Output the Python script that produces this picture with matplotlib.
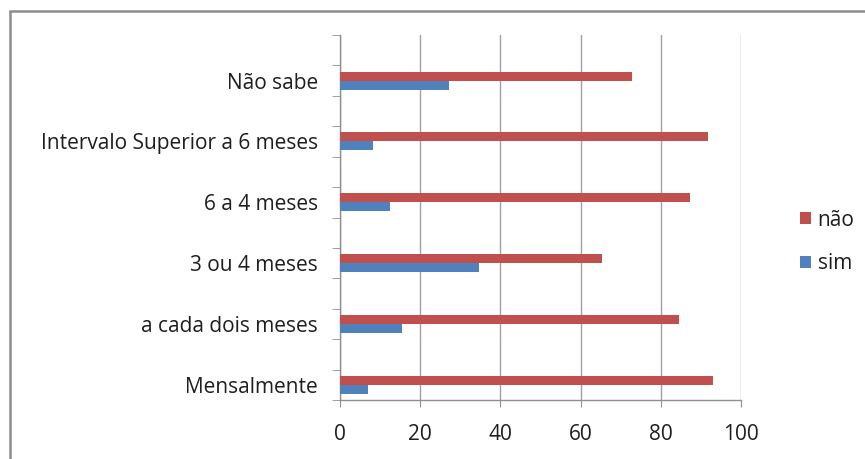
import matplotlib
matplotlib.use("Agg")
import matplotlib.pyplot as plt
import numpy as np
from matplotlib.patches import Rectangle
from matplotlib.ticker import FixedLocator

categories = ["Mensalmente", "a cada dois meses", "3 ou 4 meses", "6 a 4 meses",
              "Intervalo Superior a 6 meses", "Não sabe"]
nao = [93.1, 84.5, 65.4, 87.3, 91.7, 72.7]
sim = [6.9, 15.5, 34.6, 12.5, 8.3, 27.3]
xticks = [0, 20, 40, 60, 80, 100]

W, H = 865, 459
fig = plt.figure(figsize=(W / 100, H / 100), dpi=100)
plt.rcParams['font.family'] = ['Open Sans', 'DejaVu Sans']
txtc = '#1e1e1e'
fs = 15

ax = fig.add_axes([340 / W, 1 - 400 / H, (741 - 340) / W, (400 - 35) / H])
y = np.arange(len(categories))
h = 0.148
ax.barh(y + h / 2, nao, height=h, color='#C0504D', label='não', zorder=3)
ax.barh(y - h / 2, sim, height=h, color='#4F81BD', label='sim', zorder=3)

ax.set_xlim(0, 100)
ax.set_ylim(-0.25, len(categories) - 0.25)
ax.set_xticks(xticks)
ax.set_xticklabels([str(v) for v in xticks])
ax.set_yticks(y)
ax.set_yticklabels(categories)
ax.tick_params(axis='y', which='major', length=0)
ax.yaxis.set_minor_locator(FixedLocator(np.arange(-0.25, len(categories), 0.5)))
ax.grid(axis='x', color='#A0A0A0', linewidth=1.0, zorder=0)
ax.set_axisbelow(True)
for s in ['top', 'right']:
    ax.spines[s].set_visible(False)
for s in ['left', 'bottom']:
    ax.spines[s].set_color('#909090')
    ax.spines[s].set_linewidth(1.0)
ax.tick_params(axis='x', which='major', length=5, color='#909090', labelsize=fs,
               labelcolor=txtc, pad=12)
ax.tick_params(axis='y', which='major', labelsize=fs, labelcolor=txtc, pad=16)
ax.tick_params(axis='y', which='minor', length=6, color='#909090')

ax.legend(loc='center left', bbox_to_anchor=(800 / W, 1 - 242 / H),
          bbox_transform=fig.transFigure, frameon=False, fontsize=fs,
          borderpad=0, borderaxespad=0,
          handlelength=0.55, handleheight=0.55, handletextpad=0.3, labelspacing=1.1,
          labelcolor=txtc)

fig.patches.append(Rectangle((9.5 / W, -0.1), 1.2, 1 - 11.5 / H + 0.1,
                             transform=fig.transFigure, fill=False,
                             edgecolor='#8C8C8C', linewidth=1.8))

fig.savefig('out.png', dpi=100)
